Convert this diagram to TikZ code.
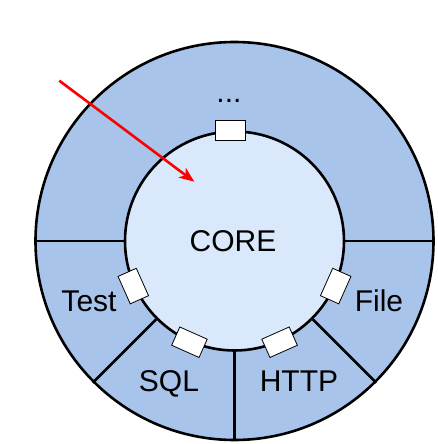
\documentclass[tikz,border=0pt]{standalone}
\usepackage{fontspec}
\setmainfont{Liberation Sans}
\usetikzlibrary{arrows.meta, positioning}

\definecolor{ringblue}{HTML}{A9C4EB}
\definecolor{coreblue}{HTML}{DAE8FC}

\begin{document}
\begin{tikzpicture}[x=1pt, y=1pt,
  port/.style={draw, fill=white, line width=0.8pt, minimum width=30pt, minimum height=20pt, inner sep=0pt},
  lbl/.style={font=\fontsize{30}{30}\selectfont, anchor=base, inner sep=0pt}]
\useasboundingbox (-234.5,-203) rectangle (202.5,241);

\node [circle, draw, line width=2.6pt, fill=ringblue, minimum size=398pt, inner sep=0pt] (ring) at (0,0) {};
\node [circle, draw, line width=2.6pt, fill=coreblue, minimum size=219pt, inner sep=0pt] (core) at (0,0) {};

\draw [line width=2.6pt] (core.180) -- (ring.180);
\draw [line width=2.6pt] (core.0) -- (ring.0);
\draw [line width=2.6pt] (core.225) -- (ring.225);
\draw [line width=2.6pt] (core.270) -- (ring.270);
\draw [line width=2.6pt] (core.315) -- (ring.315);

% % % % % % % % % % % % % % % % % % % % % % % % % %

\node [port] (pTop) at (core.92) {};
\node [port, rotate=114] (pTest) at (core.204) {};
\node [port, rotate=156] (pSql) at (core.246) {};
\node [port, rotate=204] (pHttp) at (core.294) {};
\node [port, rotate=246] (pFile) at (core.336) {};

\node [lbl] (tCore) at (-1.5,-10.7) {CORE};
\node [lbl] (tMore) at (-5.5,138.7) {...};
\node [lbl] (tTest) at (-145.5,-70.7) {Test};
\node [lbl] (tFile) at (144.5,-70.7) {File};
\node [lbl] (tSql) at (-65.5,-150) {SQL};
\node [lbl] (tHttp) at (64.5,-150) {HTTP};

\coordinate (src) at (-175.2,160.3);
\coordinate (dst) at (-40.2,59.3);
\draw [red, line width=2.6pt, -{Stealth[length=15pt, width=12pt, inset=4pt]}] (src) -- (dst);
\end{tikzpicture}
\end{document}
